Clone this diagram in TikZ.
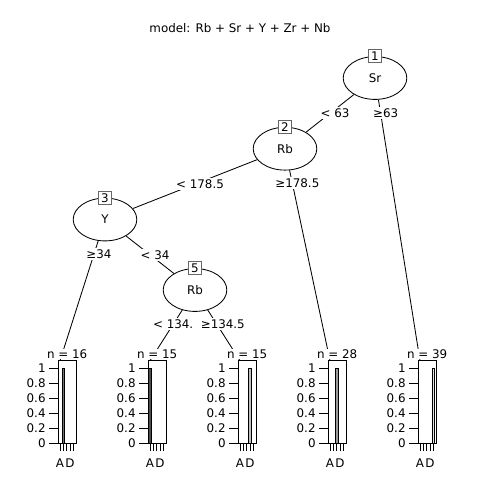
\documentclass[tikz,border=0pt]{standalone}
\usepackage{fontspec}
\setsansfont{DejaVu Sans}
\usetikzlibrary{shapes.geometric,calc}
\definecolor{cls1}{HTML}{4D4D4D}
\definecolor{cls2}{HTML}{737373}
\definecolor{cls3}{HTML}{999999}
\definecolor{cls4}{HTML}{BFBFBF}
\definecolor{cls5}{HTML}{E6E6E6}
\begin{document}
\begin{tikzpicture}[x=0.025cm, y=-0.025cm, line width=0.6pt, font=\sffamily\fontsize{8.45}{10}\selectfont,
	split/.style={draw, ellipse, minimum width=1.59cm, minimum height=1.07cm, inner sep=0pt},
	idbox/.style={draw=black!60, fill=white, minimum size=0.33cm, inner sep=0pt},
	cut/.style={fill=white, inner sep=1pt},
	nlabel/.style={fill=white, inner sep=0.5pt},
	ylab/.style={anchor=east, inner sep=0pt},
	bar/.style={draw=black, line width=0.5pt}]
		\useasboundingbox (0,0) rectangle (480,480);
		\node (title) at (240,28) {model: Rb + Sr + Y + Zr + Nb};
		
		% inner nodes
		\node[split] (n1) at (375,78)    {Sr};
		\node[split] (n2) at (285,148.7) {Rb};
		\node[split] (n3) at (105,219.5) {Y};
		\node[split] (n5) at (195,290)   {Rb};
		\node[idbox] (id1) at (n1.north) {1};
		\node[idbox] (id2) at (n2.north) {2};
		\node[idbox] (id3) at (n3.north) {3};
		\node[idbox] (id5) at (n5.north) {5};
		
		% terminal nodes
		\coordinate (t4) at (60,360.7);
		\coordinate (t6) at (150,360.7);
		\coordinate (t7) at (240,360.7);
		\coordinate (t8) at (330,360.7);
		\coordinate (t9) at (420,360.7);
		
		\draw (n1) -- (n2);
		\draw (n1) -- (t9);
		\draw (n2) -- (n3);
		\draw (n2) -- (t8);
		\draw (n3) -- (t4);
		\draw (n3) -- (n5);
		\draw (n5) -- (t6);
		\draw (n5) -- (t7);
		\node[cut] (c12) at ($(n1)!0.5!(n2)+(5,0)$)   {< 63};
		\node[cut] (c19) at ($(n1)!0.125!(t9)+(5,0)$) {≥63};
		\node[cut] (c23) at ($(n2)!0.5!(n3)+(5,0)$)   {< 178.5};
		\node[cut] (c28) at ($(n2)!0.163!(t8)+(5,0)$) {≥178.5};
		\node[cut] (c34) at ($(n3)!0.246!(t4)+(5,0)$) {≥34};
		\node[cut] (c35) at ($(n3)!0.5!(n5)+(5,0)$)   {< 34};
		\node[cut] (c56) at ($(n5)!0.485!(t6)+(0,0)$) {< 134.};
		\node[cut] (c57) at ($(n5)!0.485!(t7)+(6,0)$) {≥134.5};
		
		% bar plots
		\foreach \x/\n/\c in {60/16/2, 150/15/1, 240/15/4, 330/28/3, 420/39/5}{
			\node[nlabel] (count\x) at (\x+7.2,354) {n = \n};
			\draw (\x-2,360.7) rectangle (\x+16.5,443.3);
			\draw[bar, fill=cls\c] (\x+3.33*\c-4.63,443.3) rectangle (\x+3.33*\c-2.03,368.3);
			\foreach \v [count=\k] in {0,0.2,0.4,0.6,0.8,1}{
				\draw (\x-11,443.3-75*\v) -- (\x-2,443.3-75*\v);
				\node[ylab] (y\x-\k) at (\x-14,443.3-75*\v) {\v};
			}
			\foreach \k in {0,...,4}
				\draw (\x+3.33*\k,443.3) -- (\x+3.33*\k,451);
			\node (a\x) at (\x,463.3)    {A};
			\node (d\x) at (\x+10,463.3) {D};
		}
	\end{tikzpicture}
\end{document}
